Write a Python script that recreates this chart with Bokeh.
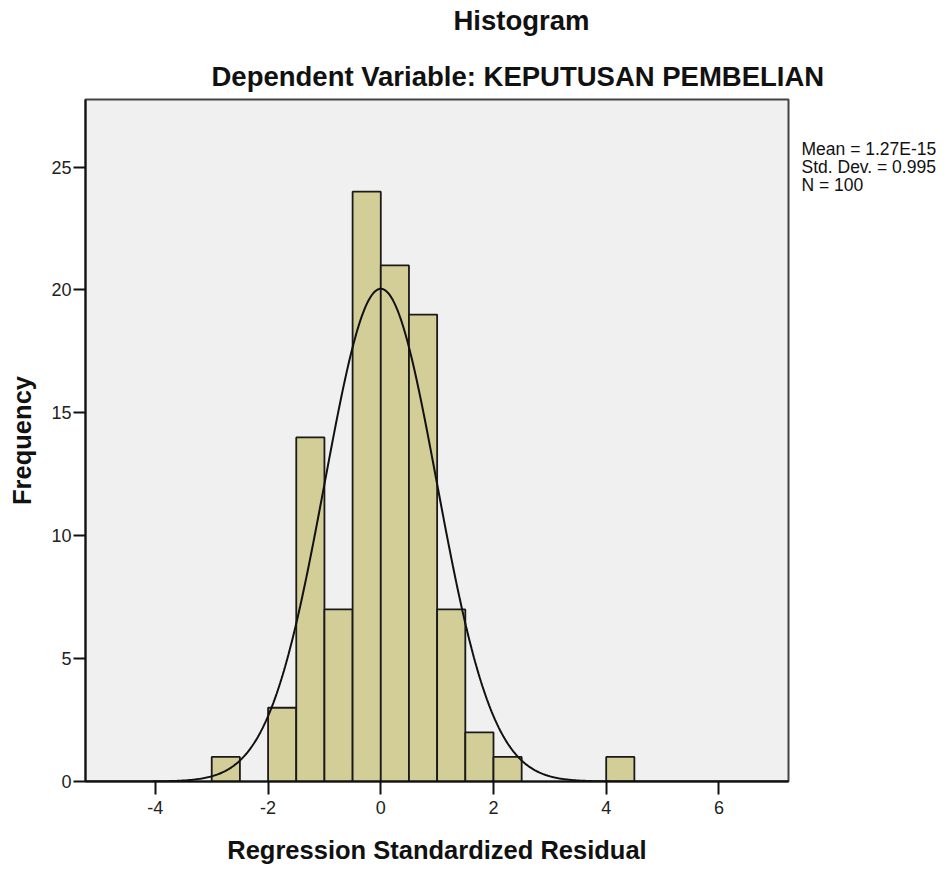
import numpy as np
from bokeh.plotting import figure
from bokeh.models import (Range1d, FixedTicker, ColumnDataSource, Title,
                          CustomJSTickFormatter, LinearAxis)
from bokeh.embed import file_html
from bokeh.resources import INLINE

# ---- data ----
bin_left = [-3.0, -2.0, -1.5, -1.0, -0.5, 0.0, 0.5, 1.0, 1.5, 2.0, 4.0]
bin_width = 0.5
counts = [1, 3, 14, 7, 24, 21, 19, 7, 2, 1, 1]
x_ticks = [-4, -2, 0, 2, 4, 6]
y_ticks = [0, 5, 10, 15, 20, 25]
stat_mean = 1.27e-15
stat_sd = 0.995
stat_n = 100
stats_text = ["Mean = 1.27E-15", "Std. Dev. = 0.995", "N = 100"]
title_text = "Histogram"
subtitle_text = "Dependent Variable: KEPUTUSAN PEMBELIAN"
x_label = "Regression Standardized Residual"
y_label = "Frequency"

FONT = "Liberation Sans"

p = figure(width=946, height=866, output_backend="svg", toolbar_location=None,
           x_range=Range1d(-5.24, 7.235), y_range=Range1d(0, 27.75),
           min_border_left=85, min_border_right=158, min_border_top=99,
           min_border_bottom=84)
p.background_fill_color = "#F0F0F0"
p.border_fill_color = "white"
p.outline_line_color = "#444444"
p.outline_line_width = 2
p.xgrid.visible = False
p.ygrid.visible = False

src = ColumnDataSource(dict(
    left=bin_left,
    right=[b + bin_width for b in bin_left],
    top=counts,
    bottom=[0] * len(counts),
))
p.quad(left="left", right="right", top="top", bottom="bottom", source=src,
       fill_color="#D3CE98", line_color="#1a1a1a", line_width=1.8)

# normal curve from the reported statistics
xs = np.linspace(-5.24, 7.235, 600)
ys = stat_n * bin_width * np.exp(-0.5 * ((xs - stat_mean) / stat_sd) ** 2) / (stat_sd * np.sqrt(2 * np.pi))
p.line(xs, ys, line_color="#111111", line_width=2)

fmt = CustomJSTickFormatter(code="return tick.toString();")
for ax, ticks in ((p.xaxis[0], x_ticks), (p.yaxis[0], y_ticks)):
    ax.ticker = FixedTicker(ticks=ticks)
    ax.formatter = fmt
    ax.minor_tick_line_color = None
    ax.major_tick_in = 0
    ax.axis_line_color = "#111111"
    ax.axis_line_width = 2
    ax.major_tick_line_color = "#111111"
    ax.major_tick_line_width = 2
    ax.major_label_text_font = FONT
    ax.major_label_text_font_size = "18px"
    ax.major_label_text_color = "#222222"
    ax.axis_label_text_font = FONT
    ax.axis_label_text_font_size = "25.5px"
    ax.axis_label_text_font_style = "bold"
    ax.axis_label_text_color = "#111111"

p.xaxis.major_tick_out = 13
p.xaxis.major_label_standoff = 6
p.xaxis.axis_label = x_label
p.xaxis.axis_label_standoff = 19
p.yaxis.major_tick_out = 12
p.yaxis.major_label_standoff = 2
p.yaxis.axis_label = y_label
p.yaxis.axis_label_standoff = 12

# statistics text: a label-only axis on the right, positioned in pixel rows of the frame
p.extra_y_ranges = {"px": Range1d(start=782, end=99)}
stats_axis = LinearAxis(y_range_name="px",
                        ticker=FixedTicker(ticks=[148.5, 166.5, 184.5]),
                        formatter=CustomJSTickFormatter(args=dict(labels=stats_text),
                                                        code="return labels[index];"))
stats_axis.axis_line_color = None
stats_axis.major_tick_line_color = None
stats_axis.minor_tick_line_color = None
stats_axis.major_tick_out = 0
stats_axis.major_tick_in = 0
stats_axis.major_label_standoff = 13
stats_axis.major_label_text_font = FONT
stats_axis.major_label_text_font_size = "17.5px"
stats_axis.major_label_text_color = "#111111"
p.add_layout(stats_axis, "right")

# titles: stacked upward from the frame: subtitle, spacer, Histogram
p.title.text = title_text
p.title.align = "left"
p.title.vertical_align = "bottom"
p.title.offset = 368
p.title.text_font = FONT
p.title.text_font_size = "27.5px"
p.title.text_font_style = "bold"
p.title.text_color = "#111111"
p.title.standoff = 0
p.add_layout(Title(text=subtitle_text, align="left", offset=126, text_font=FONT,
                   text_font_size="27.5px", text_font_style="bold",
                   text_color="#111111", standoff=16), "above")
p.add_layout(Title(text=" ", align="left", text_font=FONT, text_font_size="1px",
                   standoff=12), "above")

open("out.html", "w").write(file_html(p, INLINE))
